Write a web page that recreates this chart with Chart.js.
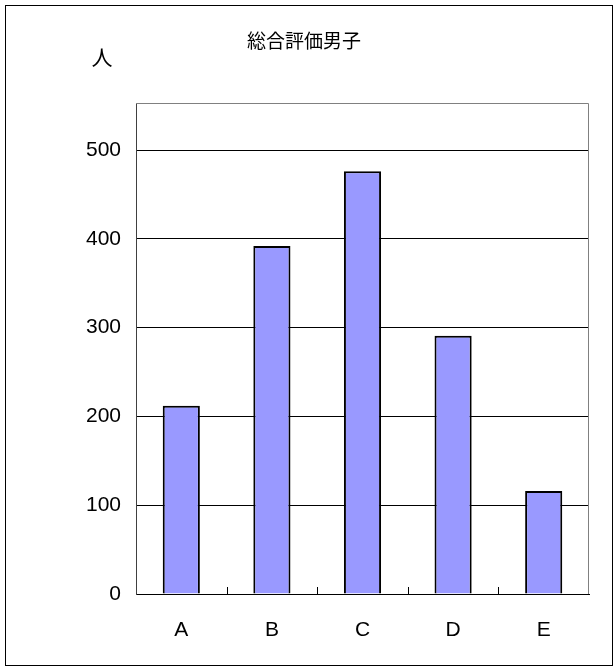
<!DOCTYPE html>
<html>
<head>
<meta charset="utf-8">
<script src="https://cdn.jsdelivr.net/npm/chart.js@4/dist/chart.umd.min.js"></script>
<style>
    body { margin: 0; background: #fff; overflow: hidden; }
    canvas { display: block; }
</style>
</head>
<body>
<canvas id="chart-hyoka" width="615" height="668"></canvas>
<script>
const chartTitle = '総合評価男子';
const unitLabel = '人';
const categories = ['A', 'B', 'C', 'D', 'E'];
const counts = [212, 392, 476, 291, 116];
const yTicks = [0, 100, 200, 300, 400, 500];

// frame, plot border, inner ticks and the two texts
const decorations = {
    id: 'decorations',
    afterDraw(chart) {
        const ctx = chart.ctx;
        const area = chart.chartArea;
        const x = chart.scales.x;
        ctx.save();
        ctx.lineWidth = 1;
        ctx.strokeStyle = '#000';
        ctx.strokeRect(5.5, 5.5, 607, 660);

        ctx.strokeStyle = '#808080';
        ctx.beginPath();
        ctx.moveTo(area.left, area.top + 0.5);
        ctx.lineTo(area.right - 0.5, area.top + 0.5);
        ctx.lineTo(area.right - 0.5, area.bottom);
        ctx.stroke();

        ctx.strokeStyle = '#000';
        const step = (x.right - x.left) / categories.length;
        for (let i = 1; i < categories.length; i++) {
            const bx = Math.round(x.left + i * step) + 0.5;
            ctx.beginPath();
            ctx.moveTo(bx, area.bottom);
            ctx.lineTo(bx, area.bottom - 7);
            ctx.stroke();
        }

        ctx.fillStyle = '#000';
        ctx.textAlign = 'center';
        ctx.textBaseline = 'middle';
        ctx.font = '19px "Noto Sans CJK JP"';
        ctx.fillText(chartTitle, 304, 41);
        ctx.font = '21px "Noto Sans CJK JP"';
        ctx.fillText(unitLabel, 102, 57);
        ctx.restore();
    },
};

new Chart(document.getElementById('chart-hyoka'), {
    type: 'bar',
    data: {
        labels: categories,
        datasets: [{
            data: counts,
            backgroundColor: '#9999ff',
            borderColor: '#000',
            borderWidth: 2,
            barPercentage: 0.41,
            categoryPercentage: 1,
        }],
    },
    options: {
        responsive: false,
        animation: false,
        layout: {
            padding: { top: 103, right: 26, left: 0, bottom: 0 },
        },
        plugins: {
            legend: { display: false },
            tooltip: { enabled: false },
        },
        scales: {
            x: {
                afterFit: (scale) => { scale.height = 74; },
                grid: { display: false },
                border: { color: '#000', width: 1 },
                ticks: {
                    padding: 16,
                    color: '#000',
                    font: { family: 'Liberation Sans', size: 21 },
                },
            },
            y: {
                min: 0,
                max: 553,
                afterFit: (scale) => { scale.width = 136; },
                afterBuildTicks: (scale) => {
                    scale.ticks = yTicks.map((v) => ({ value: v }));
                },
                grid: { color: '#000', lineWidth: 1, drawTicks: false },
                border: { color: '#404040', width: 1 },
                ticks: {
                    padding: 15,
                    color: '#000',
                    font: { family: 'Liberation Sans', size: 21 },
                },
            },
        },
    },
    plugins: [decorations],
});
</script>
</body>
</html>
